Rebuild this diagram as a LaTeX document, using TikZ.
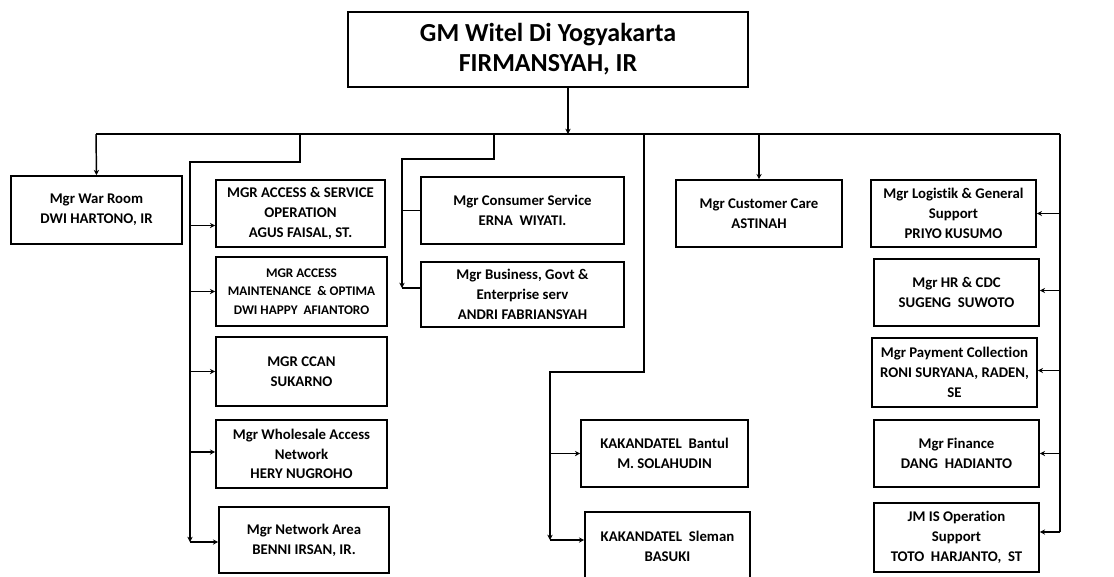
\documentclass[tikz,border=0pt]{standalone}
\usepackage{fontspec}
\setmainfont[Ligatures=NoCommon]{Carlito}
\usetikzlibrary{arrows.meta}
\newcommand{\mybox}[7][]{\node[box,#1,minimum width={(#4-#2)*0.75pt},minimum height={(#5-#3)*0.75pt}] (#6) at ({(#2+#4)/2},{(#3+#5)/2}) {#7};}
\tikzset{
  box/.style={draw,line width=1.2pt,align=center,inner sep=0pt,font=\bfseries\fontsize{11.1}{14.8}\selectfont},
  ln/.style={line width=1.1pt},
  ar/.style={line width=1.1pt,-{Stealth[length=4pt,width=4pt]}}
}
\begin{document}
\begin{tikzpicture}[x=0.75pt,y=-0.75pt]
\useasboundingbox (0,0) rectangle (1114,576);
% top
\mybox[font=\bfseries\fontsize{19.5}{22.5}\selectfont]{348}{12}{748}{87}{gm}{GM Witel Di Yogyakarta\\FIRMANSYAH, IR}
% row boxes
\mybox{11}{176}{182}{244}{war}{Mgr War Room\\DWI HARTONO, IR}
\mybox{216}{180}{385}{247}{as}{MGR ACCESS \& SERVICE\\OPERATION\\AGUS FAISAL, ST.}
\mybox[font=\bfseries\fontsize{9.9}{13.9}\selectfont]{216}{257}{387}{326}{am}{MGR ACCESS\\MAINTENANCE~ \& OPTIMA\\DWI HAPPY~ AFIANTORO}
\mybox{216}{337}{387}{406}{ccan}{MGR CCAN\\SUKARNO}
\mybox{216}{420}{387}{488}{wh}{Mgr Wholesale Access\\Network\\HERY NUGROHO}
\mybox{219}{507}{389}{573}{net}{Mgr Network Area\\BENNI IRSAN, IR.}
\mybox{421}{177}{624}{244}{cs}{Mgr Consumer Service\\ERNA~ WIYATI.}
\mybox{421}{262}{624}{327}{bg}{Mgr Business, Govt \&\\Enterprise serv\\ANDRI FABRIANSYAH}
\mybox{581}{420}{748}{487}{ba}{KAKANDATEL~ Bantul\\M. SOLAHUDIN}
\mybox{585}{512}{750}{580}{sl}{KAKANDATEL~ Sleman\\BASUKI}
\mybox{676}{180}{842}{247}{cc}{Mgr Customer Care\\ASTINAH}
\mybox{871}{180}{1036}{247}{lg}{Mgr Logistik \& General\\Support\\PRIYO KUSUMO}
\mybox{874}{259}{1039}{326}{hr}{Mgr HR \& CDC\\SUGENG~ SUWOTO}
\mybox{872}{338}{1037}{407}{pay}{Mgr Payment Collection\\RONI SURYANA, RADEN,\\SE}
\mybox{874}{420}{1039}{487}{fin}{Mgr Finance\\DANG~ HADIANTO}
\mybox{874}{503}{1039}{572}{jm}{JM IS Operation\\Support\\TOTO~ HARJANTO,~ ST}
% bus
\coordinate (bL) at (96,134);
\coordinate (bR) at (1060,134);
\draw[ln] (bL) -- (bR);
\draw[ar] ([xshift=15pt]gm.south) -- ([xshift=15pt]gm.south |- bL);
\draw[ar] (bL) -- (war.north);
\draw[ar] (cc.north |- bL) -- (cc.north);
% group 2
\coordinate (g2a) at (300,134);
\coordinate (g2x) at (190,162);
\coordinate (g2e) at (190,542);
\draw[ar] (g2a) |- (g2x) -- (g2e);
\draw[ar] (g2e) -- (g2e -| net.west);
\draw[ar] (g2x |- as.west) ++(0,12) coordinate (g2as) -- (g2as -| as.west);
\draw[ar] (g2x |- am.west) -- (am.west);
\draw[ar] (g2x |- ccan.west) -- (ccan.west);
\draw[ar] (g2x |- wh.west) ++(0,-2) coordinate (g2wh) -- (g2wh -| wh.west);
% group 3
\coordinate (g3a) at (494,134);
\coordinate (g3x) at (402,159);
\coordinate (g3e) at (402,288);
\draw[ar] (g3a) |- (g3x) -- (g3e);
\draw[ln] (g3e) -- (g3e -| bg.west);
\draw[ln] (g3x |- cs.west) -- (cs.west);
% group 4
\coordinate (g4a) at (644,134);
\coordinate (g4x) at (550,372);
\coordinate (g4e) at (550,540);
\draw[ar] (g4a) |- (g4x) -- (g4e);
\draw[ar] (g4e) -- (g4e -| sl.west);
\draw[ar] (g4x |- ba.west) -- (ba.west);
% right group
\coordinate (rE) at (1060,532);
\draw[ln] (bR) -- (rE);
\draw[ar] (bR |- lg.east) -- (lg.east);
\draw[ar] (bR |- hr.east) ++(0,-2) coordinate (rhr) -- (rhr -| hr.east);
\draw[ar] (bR |- pay.east) ++(0,-2) coordinate (rpay) -- (rpay -| pay.east);
\draw[ar] (bR |- fin.east) -- (fin.east);
\draw[ar] (rE) -- (rE -| jm.east);
\end{tikzpicture}
\end{document}
